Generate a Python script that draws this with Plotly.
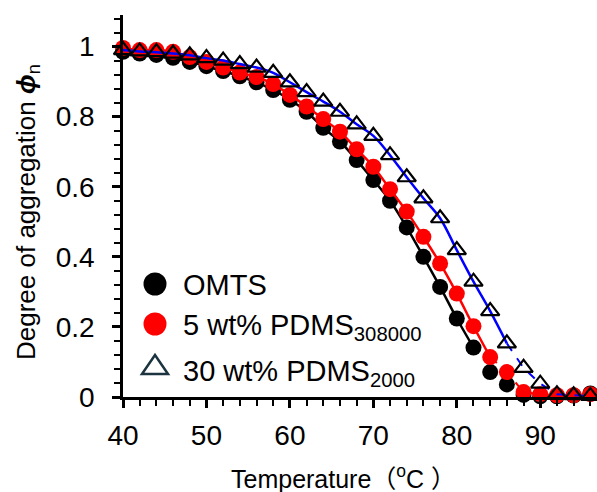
import plotly.graph_objects as go

temps = [40, 42, 44, 46, 48, 50, 52, 54, 56, 58, 60, 62, 64, 66, 68, 70, 72, 74, 76, 78,
         80, 82, 84, 86, 88, 90, 92, 94, 96]
omts = [0.985, 0.98, 0.976, 0.968, 0.956, 0.944, 0.93, 0.915, 0.898, 0.876, 0.848, 0.814,
        0.768, 0.729, 0.676, 0.619, 0.56, 0.484, 0.40, 0.314, 0.224, 0.141, 0.071, 0.036,
        0.006, 0.002, 0.002, 0.004, 0.01]
pdms308000 = [0.996, 0.99, 0.99, 0.985, 0.97, 0.956, 0.94, 0.926, 0.913, 0.893, 0.862, 0.829,
              0.793, 0.757, 0.707, 0.657, 0.593, 0.529, 0.457, 0.381, 0.295, 0.202, 0.114,
              0.071, 0.014, 0.008, 0.005, 0.005, 0.008]
pdms2000 = [0.99, 0.986, 0.984, 0.98, 0.975, 0.967, 0.96, 0.95, 0.94, 0.925, 0.898, 0.87,
            0.843, 0.814, 0.778, 0.745, 0.69, 0.627, 0.567, 0.51, 0.419, 0.329, 0.245,
            0.153, 0.083, 0.038, 0.008, 0.005, 0.003]

fit_end = {"omts": 82, "p308": 84, "p2000": 86}

def upto(xs, ys, tmax):
    return [x for x in xs if x <= tmax], [y for x, y in zip(xs, ys) if x <= tmax]

def after(xs, ys, tmin):
    return [x for x in xs if x >= tmin], [y for x, y in zip(xs, ys) if x >= tmin]

FONT = "Liberation Sans, Arial, Noto Sans CJK JP, sans-serif"

fig = go.Figure()

# OMTS
fig.add_trace(go.Scatter(x=temps, y=omts, mode="markers", cliponaxis=False,
                         marker=dict(symbol="circle", size=16, color="black"), showlegend=False))
lx, ly = upto(temps, omts, fit_end["omts"])
fig.add_trace(go.Scatter(x=lx, y=ly, mode="lines", line=dict(color="black", width=2.5, shape="spline"),
                         showlegend=False))
# 5 wt% PDMS308000
tx, ty = after(temps, pdms308000, fit_end["p308"])
fig.add_trace(go.Scatter(x=tx, y=ty, mode="lines", cliponaxis=False,
                         line=dict(color="red", width=2, dash="dash"), showlegend=False))
fig.add_trace(go.Scatter(x=temps, y=pdms308000, mode="markers", cliponaxis=False,
                         marker=dict(symbol="circle", size=16, color="red"), showlegend=False))
lx, ly = upto(temps, pdms308000, fit_end["p308"])
fig.add_trace(go.Scatter(x=lx, y=ly, mode="lines", line=dict(color="red", width=2.5, shape="spline"),
                         showlegend=False))
# 30 wt% PDMS2000
tx, ty = after(temps, pdms2000, fit_end["p2000"])
fig.add_trace(go.Scatter(x=tx, y=ty, mode="lines", cliponaxis=False,
                         line=dict(color="blue", width=2, dash="dash"), showlegend=False))
lx, ly = upto(temps, pdms2000, fit_end["p2000"])
fig.add_trace(go.Scatter(x=lx, y=ly, mode="lines", line=dict(color="blue", width=2.5, shape="spline"),
                         showlegend=False))
fig.add_trace(go.Scatter(x=temps, y=pdms2000, mode="markers", cliponaxis=False,
                         marker=dict(symbol="triangle-up-open", size=16, color="black",
                                     line=dict(width=2.2, color="black")),
                         showlegend=False))

# legend drawn manually (larger symbols than plotly's legend allows)
legend_items = [("OMTS", "circle", "black"),
                ("5 wt% PDMS<sub>308000</sub>", "circle", "red"),
                ("30 wt% PDMS<sub>2000</sub>", "triangle", "#1c3340")]
leg_x_px = 155
leg_sym_y = [284, 324, 365]
leg_txt_y = [285, 327, 373]
W, H = 597, 492
L, R, T, B = 123, 0, 15, 95
pw, ph = W - L - R, H - T - B

def px_to_paper(x, y):
    return (x - L) / pw, (H - B - y) / ph

for (label, sym, col), ys, yt_ in zip(legend_items, leg_sym_y, leg_txt_y):
    cx, cy = px_to_paper(leg_x_px, ys)
    rx, ry = 11.5 / pw, 11.5 / ph
    if sym == "circle":
        fig.add_shape(type="circle", xref="paper", yref="paper",
                      x0=cx - rx, x1=cx + rx, y0=cy - ry, y1=cy + ry,
                      fillcolor=col, line=dict(width=0))
    else:
        x0, y0 = px_to_paper(leg_x_px - 13, ys + 9)
        x1, y1 = px_to_paper(leg_x_px + 13, ys + 9)
        x2, y2 = px_to_paper(leg_x_px, ys - 10)
        fig.add_shape(type="path", xref="paper", yref="paper",
                      path=f"M {x0} {y0} L {x1} {y1} L {x2} {y2} Z",
                      fillcolor="rgba(0,0,0,0)", line=dict(color=col, width=2.5))
    tx_, ty_ = px_to_paper(181, yt_)
    fig.add_annotation(x=tx_, y=ty_, xref="paper", yref="paper", text=label,
                       showarrow=False, xanchor="left", yanchor="middle",
                       font=dict(family=FONT, size=29, color="black"))

# axis titles
xt, yt = px_to_paper(343, 477)
fig.add_annotation(x=xt, y=yt, xref="paper", yref="paper",
                   text="Temperature（<sup>o</sup>C ）", showarrow=False,
                   xanchor="center", yanchor="middle",
                   font=dict(family=FONT, size=25, color="black"))
xt, yt = px_to_paper(27, 212)
fig.add_annotation(x=xt, y=yt, xref="paper", yref="paper",
                   text="Degree of aggregation <b><i>ϕ</i></b><sub>n</sub>", showarrow=False,
                   textangle=-90, xanchor="center", yanchor="middle",
                   font=dict(family=FONT, size=26, color="black"))

fig.update_layout(
    width=W, height=H,
    margin=dict(l=L, r=R, t=T, b=B),
    paper_bgcolor="white", plot_bgcolor="white",
    showlegend=False,
    font=dict(family=FONT, size=28, color="black"),
)
fig.update_xaxes(range=[40, 96.8], showgrid=False, zeroline=False,
                 showline=True, linecolor="black", linewidth=2.5,
                 tickmode="linear", tick0=40, dtick=10,
                 ticks="outside", ticklen=8, tickwidth=2.5, tickcolor="black",
                 ticklabelstandoff=4,
                 minor=dict(ticks="outside", ticklen=6, tickwidth=2, tickcolor="black",
                            dtick=2, tick0=40, showgrid=False),
                 tickfont=dict(family=FONT, size=28, color="black"))
fig.update_yaxes(range=[0, 1.09], showgrid=False, zeroline=False,
                 showline=True, linecolor="black", linewidth=2.5,
                 tickmode="array", tickvals=[0, 0.2, 0.4, 0.6, 0.8, 1.0],
                 ticktext=["0", "0.2", "0.4", "0.6", "0.8", "1"],
                 ticks="outside", ticklen=8, tickwidth=2.5, tickcolor="black",
                 ticklabelstandoff=12,
                 minor=dict(ticks="outside", ticklen=6, tickwidth=2, tickcolor="black",
                            dtick=0.04, tick0=0, showgrid=False),
                 tickfont=dict(family=FONT, size=28, color="black"))

fig.write_html("out.html")
